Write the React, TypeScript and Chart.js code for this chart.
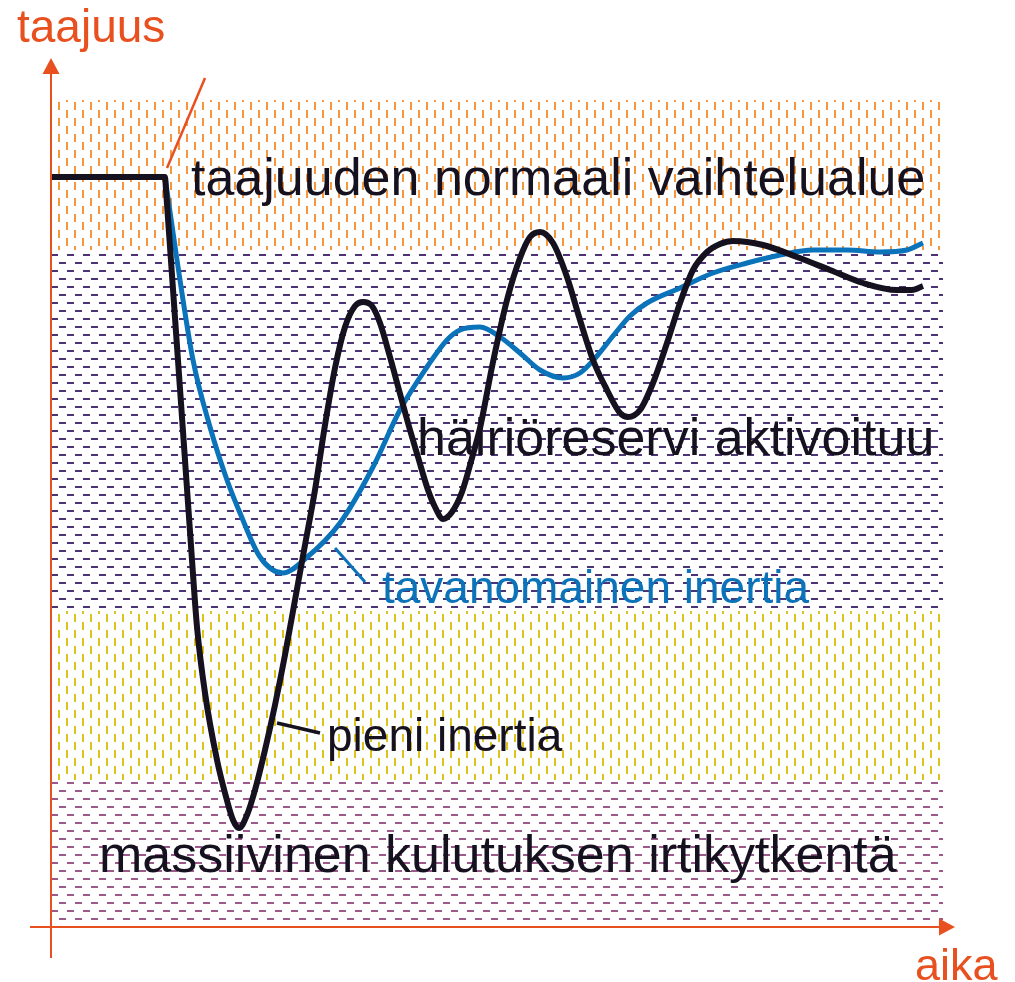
import React, { useEffect, useRef } from "react";
import { Chart, registerables } from "chart.js";

Chart.register(...registerables);

// ---- data (x: aika, y: taajuus, arbitrary units) ----
const blackX = [0, 11.4, 11.5, 14.1, 14.6, 15.4, 16.6, 17.4, 18.2, 18.8, 19.6, 20.4, 21.4, 22.4, 23.4, 24.4, 25.4, 26.4, 27.4, 28.4, 29.4, 30.4, 31.2, 32.1, 32.9, 33.9, 34.8, 35.7, 36.7, 37.7, 38.4, 39.2, 40.1, 41.1, 42.1, 42.9, 44.2, 45.6, 46.9, 47.9, 48.9, 50.2, 51.6, 52.9, 54.2, 55.6, 56.9, 57.7, 58.9, 60.2, 61.6, 62.9, 64.2, 65.6, 66.9, 68.2, 71.2, 74.6, 77.9, 81.2, 84.6, 86.1, 87.2];
const blackY = [74.5, 74.5, 73.2, 36.2, 29.5, 22.9, 16.2, 12.9, 10.2, 9.4, 10.7, 13.2, 17.2, 21.7, 26.7, 32.2, 37.7, 43.2, 49.7, 55.4, 59.5, 61.6, 62.0, 61.6, 59.9, 56.5, 53.2, 49.9, 46.5, 43.2, 41.5, 40.3, 41.0, 43.0, 46.4, 49.4, 56.0, 62.2, 66.4, 68.5, 69.0, 67.9, 64.5, 60.2, 56.2, 53.2, 50.9, 50.5, 51.2, 53.9, 57.9, 61.9, 65.2, 67.0, 67.8, 68.1, 67.7, 66.5, 65.2, 63.9, 63.2, 63.2, 63.6];

const blueX = [11.4, 12.6, 14.2, 15.9, 17.6, 18.9, 20.9, 23.2, 25.4, 28.9, 32.2, 34.9, 37.6, 39.6, 40.9, 42.9, 44.9, 46.9, 48.9, 51.2, 52.9, 54.6, 56.2, 57.9, 59.6, 62.9, 66.2, 69.6, 72.9, 76.2, 79.6, 82.9, 85.6, 87.2];
const blueY = [74.5, 66.2, 56.2, 49.5, 44.2, 40.9, 36.5, 34.9, 36.3, 39.9, 45.5, 51.2, 55.5, 58.2, 59.2, 59.5, 58.5, 56.9, 55.2, 54.4, 54.9, 56.6, 58.6, 60.6, 61.9, 63.4, 64.9, 65.9, 66.7, 67.2, 67.2, 67.0, 67.2, 67.9];

// frequency bands (lower / upper limits)
const bandLow = [0, 14.2, 31.1, 67.2];
const bandHigh = [14.2, 31.1, 67.2, 82.2];

// text labels
const labelText = [
  "taajuuden normaali vaihtelualue",
  "häiriöreservi aktivoituu",
  "tavanomainen inertia",
  "pieni inertia",
  "massiivinen kulutuksen irtikytkentä",
  "taajuus",
  "aika",
];
const labelX = [14.0, 36.6, 33.1, 27.6, 4.8, -3.4, 86.4];
const labelY = [72.7, 46.7, 31.9, 17.1, 5.0, 88.0, -5.8];

// leader lines from labels to curves
const leaderX1 = [11.6, 28.4, 22.6];
const leaderY1 = [75.4, 37.4, 19.9];
const leaderX2 = [15.4, 31.4, 26.9];
const leaderY2 = [84.4, 34.0, 18.9];

// axes extents
const xRange = [0, 89.2];
const yRange = [0, 82.2];
const xAxisLine = [-2.1, 90.4, -0.5]; // start, end(tip), at y
const yAxisLine = [-3.6, 86.4, 0]; // bottom, top(tip), at x

// ---- styles ----
const INK = "#15111f";
const BLUE = "#0b73b9";
const ORANGE = "#e8501f";
const bandColors = ["#9c5a8c", "#dcc41c", "#4a3473", "#f6973f"];
const bandKinds = ["h", "v", "h", "v"];
const labelColors = [INK, INK, BLUE, INK, INK, ORANGE, ORANGE];
const labelSizes = [52, 52, 46, 46, 52, 46, 45];
const leaderColors = [ORANGE, BLUE, INK];
const leaderWidths = [2.5, 3, 3.5];
const FONT = '"Liberation Sans", Arial, sans-serif';

function makePattern(ctx: CanvasRenderingContext2D, color: string, kind: string) {
  const c = document.createElement("canvas");
  c.width = 16;
  c.height = 16;
  const g = c.getContext("2d")!;
  g.fillStyle = color;
  if (kind === "v") {
    g.fillRect(10, 6, 2, 8);
    g.fillRect(2, 14, 2, 8);
    g.fillRect(2, -2, 2, 8);
  } else {
    g.fillRect(3, 14, 7, 2);
    g.fillRect(11, 6, 7, 2);
    g.fillRect(-5, 6, 7, 2);
  }
  return ctx.createPattern(c, "repeat")!;
}

const bandsPlugin = {
  id: "bands",
  beforeDatasetsDraw(chart: any) {
    const { ctx, scales } = chart;
    const xs = scales.x;
    const ys = scales.y;
    ctx.save();
    for (let i = 0; i < bandLow.length; i++) {
      const x0 = xs.getPixelForValue(xRange[0]);
      const x1 = xs.getPixelForValue(xRange[1]);
      const yTop = ys.getPixelForValue(bandHigh[i]);
      const yBot = ys.getPixelForValue(bandLow[i]);
      ctx.fillStyle = makePattern(ctx, bandColors[i], bandKinds[i]);
      ctx.fillRect(x0, yTop, x1 - x0, yBot - yTop);
    }
    ctx.restore();
  },
};

const overlayPlugin = {
  id: "overlay",
  afterDatasetsDraw(chart: any) {
    const { ctx, scales } = chart;
    const xs = scales.x;
    const ys = scales.y;
    ctx.save();
    // axes
    ctx.strokeStyle = ORANGE;
    ctx.fillStyle = ORANGE;
    ctx.lineWidth = 2;
    const ax = xs.getPixelForValue(yAxisLine[2]);
    const ayBot = ys.getPixelForValue(yAxisLine[0]);
    const ayTop = ys.getPixelForValue(yAxisLine[1]);
    ctx.beginPath();
    ctx.moveTo(ax, ayBot);
    ctx.lineTo(ax, ayTop + 12);
    ctx.stroke();
    ctx.beginPath();
    ctx.moveTo(ax, ayTop);
    ctx.lineTo(ax - 8.5, ayTop + 16);
    ctx.lineTo(ax + 8.5, ayTop + 16);
    ctx.closePath();
    ctx.fill();

    const by = ys.getPixelForValue(xAxisLine[2]);
    const bx0 = xs.getPixelForValue(xAxisLine[0]);
    const bx1 = xs.getPixelForValue(xAxisLine[1]);
    ctx.beginPath();
    ctx.moveTo(bx0, by);
    ctx.lineTo(bx1 - 12, by);
    ctx.stroke();
    ctx.beginPath();
    ctx.moveTo(bx1, by);
    ctx.lineTo(bx1 - 16, by - 8.5);
    ctx.lineTo(bx1 - 16, by + 8.5);
    ctx.closePath();
    ctx.fill();

    // leaders
    for (let i = 0; i < leaderX1.length; i++) {
      ctx.strokeStyle = leaderColors[i];
      ctx.lineWidth = leaderWidths[i];
      ctx.beginPath();
      ctx.moveTo(xs.getPixelForValue(leaderX1[i]), ys.getPixelForValue(leaderY1[i]));
      ctx.lineTo(xs.getPixelForValue(leaderX2[i]), ys.getPixelForValue(leaderY2[i]));
      ctx.stroke();
    }

    // labels
    ctx.textBaseline = "alphabetic";
    ctx.textAlign = "left";
    for (let i = 0; i < labelText.length; i++) {
      ctx.font = `${labelSizes[i]}px ${FONT}`;
      ctx.fillStyle = labelColors[i];
      ctx.fillText(labelText[i], xs.getPixelForValue(labelX[i]), ys.getPixelForValue(labelY[i]));
    }
    ctx.restore();
  },
};

export default function App() {
  const ref = useRef<HTMLCanvasElement>(null);
  useEffect(() => {
    if (!ref.current) return;
    const chart = new Chart(ref.current, {
      type: "line",
      data: {
        datasets: [
          {
            label: "pieni inertia",
            data: blackX.map((x, i) => ({ x, y: blackY[i] })),
            borderColor: INK,
            borderWidth: 6,
            pointRadius: 0,
            fill: false,
            cubicInterpolationMode: "monotone",
          },
          {
            label: "tavanomainen inertia",
            data: blueX.map((x, i) => ({ x, y: blueY[i] })),
            borderColor: BLUE,
            borderWidth: 5,
            pointRadius: 0,
            fill: false,
            cubicInterpolationMode: "monotone",
          },
        ],
      },
      options: {
        animation: false,
        responsive: false,
        devicePixelRatio: 1,
        layout: { padding: { left: 51, top: 100, right: 72, bottom: 60 } },
        scales: {
          x: { type: "linear", min: xRange[0], max: xRange[1], display: false },
          y: { type: "linear", min: yRange[0], max: yRange[1], display: false },
        },
        plugins: { legend: { display: false }, tooltip: { enabled: false }, title: { display: false } },
        events: [],
      },
      plugins: [bandsPlugin, overlayPlugin],
    });
    return () => chart.destroy();
  }, []);
  return (
    <div style={{ position: "absolute", left: 0, top: 0, width: 1015, height: 982, background: "#fff" }}>
      <canvas ref={ref} width={1015} height={982} />
    </div>
  );
}
